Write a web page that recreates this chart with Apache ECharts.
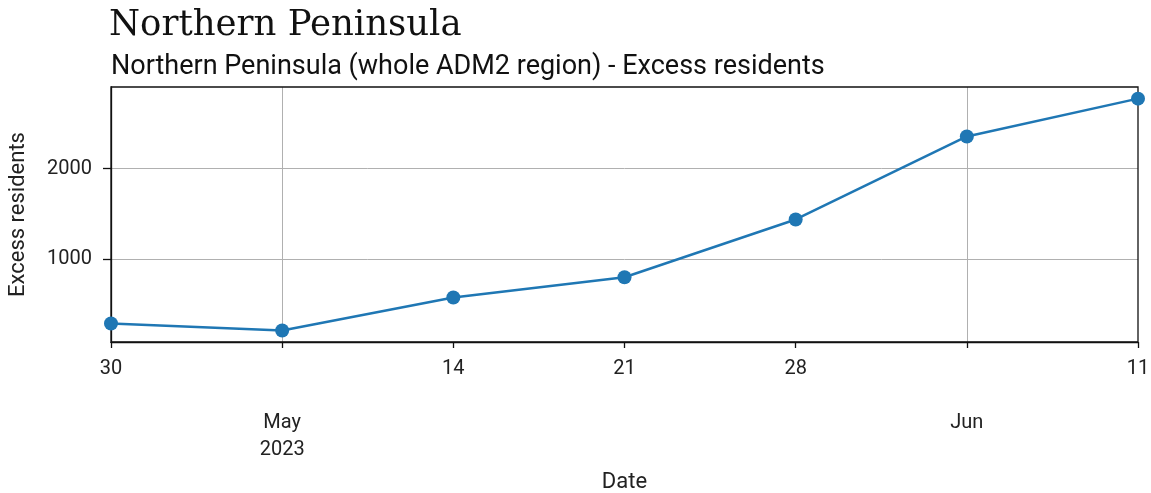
<!DOCTYPE html>
<html>
<head>
<meta charset="utf-8">
<script src="https://cdn.jsdelivr.net/npm/echarts@6/dist/echarts.min.js"></script>
<style>
	html, body { margin: 0; padding: 0; background: #fff; }
	#chart { width: 1151px; height: 493px; }
</style>
</head>
<body>
<div id="chart"></div>
<script>
// weekly dates, Apr 30 .. Jun 11 2023
var dates = ['30', 'May\n2023', '14', '21', '28', 'Jun', '11'];
var majorIdx = [1, 5];
var excessResidents = [297, 220, 582, 805, 1440, 2352, 2768];
var yTicks = [1000, 2000];

var myChart = echarts.init(document.getElementById('chart'));
var labelFont = 'Roboto';

function isMajor(i) { return majorIdx.indexOf(i) >= 0; }

var option = {
	animation: false,
	title: [
		{
			text: 'Northern Peninsula',
			left: 104,
			top: 3,
			textStyle: { fontFamily: 'DejaVu Serif', fontWeight: 'normal', fontSize: 35.5, color: '#111' }
		},
		{
			text: 'Northern Peninsula (whole ADM2 region) - Excess residents',
			left: 106,
			top: 49,
			textStyle: { fontFamily: labelFont, fontWeight: 'normal', fontSize: 27, color: '#111' }
		}
	],
	grid: { left: 111, right: 13, top: 87, bottom: 151, outerBoundsMode: 'none', containLabel: false },
	xAxis: {
		type: 'category',
		boundaryGap: false,
		data: dates,
		name: 'Date',
		nameLocation: 'middle',
		nameGap: 129,
		nameTextStyle: { fontFamily: labelFont, fontSize: 22, color: '#222' },
		axisLine: { show: true, lineStyle: { color: '#111', width: 1.3 } },
		axisTick: {
			show: true,
			length: 6,
			interval: 0,
			lineStyle: { color: '#111', width: 1.3 }
		},
		axisLabel: {
			interval: 0,
			margin: 13,
			lineHeight: 27,
			fontFamily: labelFont,
			fontSize: 20,
			color: '#222',
			formatter: function (val, i) {
				return isMajor(i) ? '\n\n' + val : val;
			}
		},
		splitLine: {
			show: true,
			interval: function (i) { return isMajor(i); },
			lineStyle: { color: '#b0b0b0', width: 1 }
		}
	},
	yAxis: {
		type: 'value',
		min: 93,
		max: 2896,
		name: 'Excess residents',
		nameLocation: 'middle',
		nameGap: 82,
		nameTextStyle: { fontFamily: labelFont, fontSize: 22, color: '#222' },
		axisLine: { show: true, lineStyle: { color: '#111', width: 1.3 } },
		axisTick: { show: true, length: 8, customValues: yTicks, lineStyle: { color: '#111', width: 1.3 } },
		axisLabel: {
			customValues: yTicks,
			margin: 19,
			fontFamily: labelFont,
			fontSize: 20,
			color: '#222',
			formatter: function (v) { return String(v); }
		},
		splitLine: { show: true, lineStyle: { color: '#b0b0b0', width: 1 } }
	},
	series: [
		{
			type: 'line',
			data: excessResidents,
			symbol: 'circle',
			symbolSize: 14,
			clip: false,
			lineStyle: { color: '#1f77b4', width: 2.5 },
			itemStyle: { color: '#1f77b4' }
		}
	]
};
myChart.setOption(option);

// top and right frame like the reference
myChart.setOption({
	graphic: [{
		type: 'rect',
		shape: { x: 111, y: 87, width: 1151 - 111 - 13, height: 493 - 87 - 151 },
		style: { fill: 'none', stroke: '#111', lineWidth: 1.3 },
		silent: true,
		z: 0
	}]
});
</script>
</body>
</html>
